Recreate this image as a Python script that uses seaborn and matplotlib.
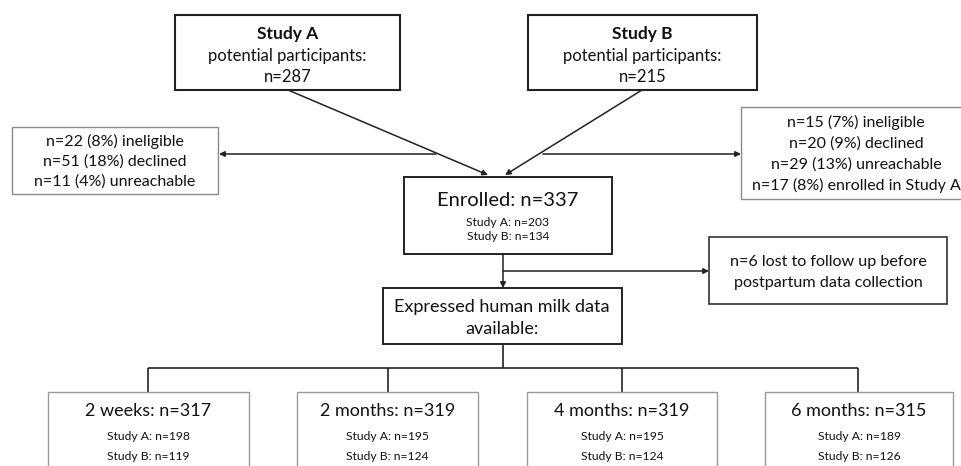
import matplotlib
matplotlib.use("Agg")
import matplotlib.pyplot as plt
from matplotlib.patches import Rectangle
import seaborn as sns

# ---- data ----
study_names = ["Study A", "Study B"]
potential_n = [287, 215]
excluded_A = ["n=22 (8%) ineligible", "n=51 (18%) declined", "n=11 (4%) unreachable"]
excluded_B = ["n=15 (7%) ineligible", "n=20 (9%) declined", "n=29 (13%) unreachable",
              "n=17 (8%) enrolled in Study A"]
enrolled_total = 337
enrolled_by_study = [203, 134]
lost_n = 6
timepoints = ["2 weeks", "2 months", "4 months", "6 months"]
tp_total = [317, 319, 319, 315]
tp_study_A = [198, 195, 195, 189]
tp_study_B = [119, 124, 124, 126]

sns.set_theme(style="white")
plt.rcParams["font.family"] = ["Lato", "DejaVu Sans"]

fig = plt.figure(figsize=(9.61, 4.66), dpi=100)
ax = fig.add_axes([0, 0, 1, 1])
ax.set_xlim(0, 961)
ax.set_ylim(466, 0)
ax.axis("off")

TXT = "#111111"

def box(x0, y0, x1, y1, ec="#222222", lw=1.4):
    ax.add_patch(Rectangle((x0, y0), x1 - x0, y1 - y0, fill=True, fc="white",
                           ec=ec, lw=lw, zorder=2))

def line(x0, y0, x1, y1, lw=1.2, color="#222222"):
    ax.plot([x0, x1], [y0, y1], color=color, lw=lw, solid_capstyle="butt", zorder=1)

def arrow(x0, y0, x1, y1, lw=1.1):
    ax.annotate("", xy=(x1, y1), xytext=(x0, y0),
                arrowprops=dict(arrowstyle="-|>", color="#222222", lw=lw,
                                mutation_scale=8, shrinkA=0, shrinkB=0), zorder=3)

# Study boxes
study_boxes = [(175, 15, 400, 90), (528, 15, 757, 90)]
for (x0, y0, x1, y1), name, n in zip(study_boxes, study_names, potential_n):
    box(x0, y0, x1, y1, ec="#222222", lw=1.5)
    cx = (x0 + x1) / 2
    ax.text(cx, 34, name, ha="center", va="center", fontsize=12.5, fontweight="bold", color=TXT, zorder=4)
    ax.text(cx, 56, "potential participants:", ha="center", va="center", fontsize=12, color=TXT, zorder=4)
    ax.text(cx, 77, f"n={n}", ha="center", va="center", fontsize=12, color=TXT, zorder=4)

# diagonal arrows to enrolled
arrow(288, 90, 488, 175)
arrow(642, 90, 505, 175)

# side exclusion arrows
arrow(436, 154, 219, 154)
arrow(543, 154, 741, 154)

# exclusion boxes
box(12, 127, 218, 194, ec="#8a8a8a", lw=1.0)
for i, t in enumerate(excluded_A):
    ax.text(115, 141 + i * 20.5, t, ha="center", va="center", fontsize=11.5, color=TXT, zorder=4)
box(741, 107, 975, 199, ec="#8a8a8a", lw=1.0)
for i, t in enumerate(excluded_B):
    ax.text(856, 122 + i * 21.3, t, ha="center", va="center", fontsize=11.5, color=TXT, zorder=4)

# enrolled box
box(404, 177, 612, 254, ec="#222222", lw=1.4)
ax.text(508, 200, f"Enrolled: n={enrolled_total}", ha="center", va="center", fontsize=14.5, color=TXT, zorder=4)
for i, (name, n) in enumerate(zip(study_names, enrolled_by_study)):
    ax.text(508, 222 + i * 15, f"{name}: n={n}", ha="center", va="center", fontsize=8.7, color=TXT, zorder=4)

# arrow down + lost branch
arrow(503, 254, 503, 288)
arrow(503, 271, 709, 271)
box(709, 237, 947, 304, ec="#333333", lw=1.2)
ax.text(828, 262, f"n={lost_n} lost to follow up before", ha="center", va="center", fontsize=11.6, color=TXT, zorder=4)
ax.text(828, 283, "postpartum data collection", ha="center", va="center", fontsize=11.6, color=TXT, zorder=4)

# expressed milk box
box(383, 288, 622, 344, ec="#222222", lw=1.4)
ax.text(502, 307, "Expressed human milk data", ha="center", va="center", fontsize=13, color=TXT, zorder=4)
ax.text(502, 329, "available:", ha="center", va="center", fontsize=13, color=TXT, zorder=4)

# tree to timepoints
line(503, 344, 503, 368)
drop_x = [148, 388, 622, 858]
line(drop_x[0], 368, drop_x[-1], 368)
for dx in drop_x:
    line(dx, 368, dx, 392)

tp_boxes = [(48, 249), (297, 478), (527, 717), (765, 953)]
for (x0, x1), tp, tot, a, b in zip(tp_boxes, timepoints, tp_total, tp_study_A, tp_study_B):
    box(x0, 392, x1, 490, ec="#9a9a9a", lw=1.0)
    cx = (x0 + x1) / 2
    ax.text(cx, 411, f"{tp}: n={tot}", ha="center", va="center", fontsize=13, color=TXT, zorder=4)
    ax.text(cx, 437, f"Study A: n={a}", ha="center", va="center", fontsize=8.7, color=TXT, zorder=4)
    ax.text(cx, 457, f"Study B: n={b}", ha="center", va="center", fontsize=8.7, color=TXT, zorder=4)

fig.savefig("out.png", dpi=100, facecolor="white")
